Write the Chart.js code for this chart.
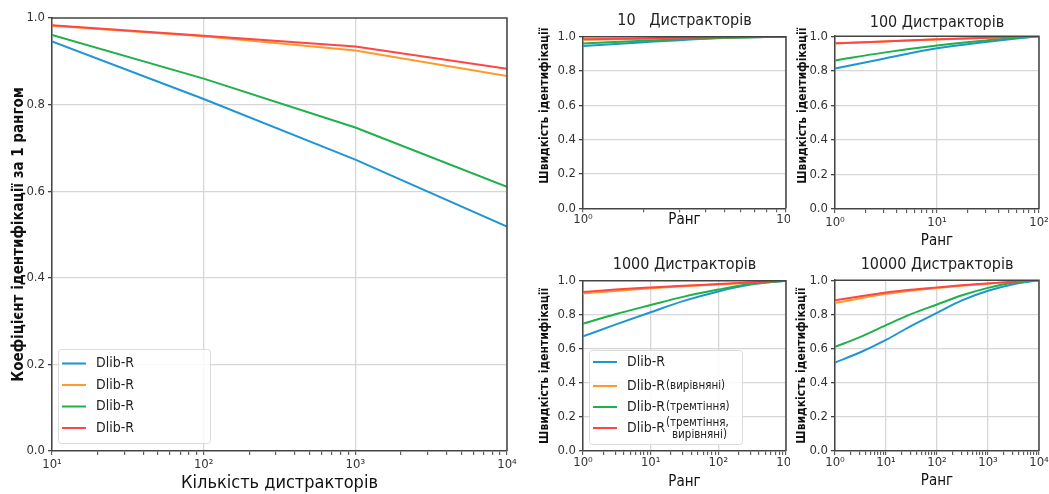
<!DOCTYPE html>
<html><head><meta charset="utf-8">
<script src="https://cdn.jsdelivr.net/npm/chart.js@4.4.1/dist/chart.umd.min.js"></script>
<style>
html,body{margin:0;padding:0;background:#fff;width:1049px;height:494px;overflow:hidden;position:relative}
.box{position:absolute}
</style></head><body>
<div class="box" style="left:0;top:0;width:520px;height:494px"><canvas id="cMain"></canvas></div>
<div class="box" style="left:530px;top:0;width:260px;height:250px"><canvas id="c10"></canvas></div>
<div class="box" style="left:790px;top:0;width:259px;height:250px"><canvas id="c100"></canvas></div>
<div class="box" style="left:530px;top:250px;width:260px;height:244px"><canvas id="c1000"></canvas></div>
<div class="box" style="left:790px;top:250px;width:259px;height:244px"><canvas id="c10000"></canvas></div>
<script>
// ---------- DATA ----------
const SERIES_LABELS = ['Dlib-R', 'Dlib-R(вирівняні)', 'Dlib-R(тремтіння)', 'Dlib-R(тремтіння, вирівняні)'];
const MAIN_LEGEND_LABELS = ['Dlib-R', 'Dlib-R', 'Dlib-R', 'Dlib-R'];

const DISTRACTORS = [10, 100, 1000, 10000];
const MAIN_BLUE   = [0.946, 0.813, 0.673, 0.518];
const MAIN_ORANGE = [0.982, 0.958, 0.925, 0.866];
const MAIN_GREEN  = [0.961, 0.860, 0.747, 0.610];
const MAIN_RED    = [0.983, 0.959, 0.934, 0.883];

const RANK_10 = [1, 2, 3, 5, 10];
const R10_BLUE   = [0.946, 0.968, 0.980, 0.992, 1.0];
const R10_ORANGE = [0.982, 0.988, 0.992, 0.996, 1.0];
const R10_GREEN  = [0.961, 0.976, 0.985, 0.994, 1.0];
const R10_RED    = [0.985, 0.990, 0.994, 0.997, 1.0];

const RANK_100 = [1, 3, 10, 30, 100];
const R100_BLUE   = [0.813, 0.870, 0.930, 0.966, 1.0];
const R100_ORANGE = [0.958, 0.969, 0.981, 0.990, 1.0];
const R100_GREEN  = [0.860, 0.905, 0.946, 0.975, 1.0];
const R100_RED    = [0.959, 0.970, 0.982, 0.991, 1.0];

const RANK_1000 = [1, 3, 10, 30, 100, 300, 1000];
const R1000_BLUE   = [0.673, 0.742, 0.815, 0.880, 0.937, 0.977, 1.0];
const R1000_ORANGE = [0.925, 0.940, 0.955, 0.967, 0.978, 0.989, 1.0];
const R1000_GREEN  = [0.747, 0.803, 0.857, 0.905, 0.948, 0.981, 1.0];
const R1000_RED    = [0.934, 0.948, 0.960, 0.970, 0.980, 0.990, 1.0];

const RANK_10000 = [1, 3, 10, 30, 100, 300, 1000, 3000, 10000];
const R10000_BLUE   = [0.518, 0.575, 0.650, 0.730, 0.809, 0.880, 0.938, 0.975, 1.0];
const R10000_ORANGE = [0.866, 0.893, 0.920, 0.938, 0.955, 0.968, 0.980, 0.990, 1.0];
const R10000_GREEN  = [0.610, 0.665, 0.737, 0.800, 0.858, 0.910, 0.955, 0.985, 1.0];
const R10000_RED    = [0.883, 0.905, 0.928, 0.944, 0.958, 0.970, 0.981, 0.991, 1.0];

const Y_TICKS = [0, 0.2, 0.4, 0.6, 0.8, 1.0];
const SUPERSCRIPTS = ['⁰', '¹', '²', '³', '⁴'];
const TITLE_MAIN_X = 'Кількість дистракторів';
const TITLE_MAIN_Y = 'Коефіцієнт ідентифікації за 1 рангом';
const TITLE_SMALL_X = 'Ранг';
const TITLE_SMALL_Y = 'Швидкість ідентифікації';
const PANEL_TITLES = ['10   Дистракторів', '100 Дистракторів', '1000 Дистракторів', '10000 Дистракторів'];

// ---------- STYLE ----------
const COLORS = ['#1f96d2', '#ff9a2a', '#1fb04a', '#ff4545'];
const NARROW = "'Liberation Sans Narrow','DejaVu Sans Condensed','Roboto Condensed','Liberation Sans',sans-serif";
const GRID = '#d6d6d6';
const AXIS = '#444';
Chart.defaults.font.family = NARROW;
Chart.defaults.color = '#333';

function isDecade(v) { const l = Math.log10(v); return Math.abs(l - Math.round(l)) < 1e-9; }

function mkDatasets(xs, series, labels, tension) {
  return series.map((vals, i) => ({
    label: labels[i],
    data: xs.map((x, j) => ({x: x, y: vals[j]})),
    borderColor: COLORS[i], backgroundColor: COLORS[i],
    borderWidth: 2, pointRadius: 0, fill: false,
    tension: tension, cubicInterpolationMode: tension ? 'monotone' : 'default',
    order: 3 - i
  }));
}

const framePlugin = {
  id: 'frame',
  afterDatasetsDraw(chart) {
    const {ctx, chartArea: a} = chart;
    ctx.save(); ctx.strokeStyle = AXIS; ctx.lineWidth = 1.5;
    ctx.beginPath(); ctx.moveTo(a.left, a.top); ctx.lineTo(a.right, a.top); ctx.lineTo(a.right, a.bottom); ctx.stroke();
    ctx.restore();
  }
};

const boxLegend = {
  id: 'boxLegend',
  afterDraw(chart, args, o) {
    if (!o || !o.show) return;
    const {ctx, chartArea: a} = chart;
    const x0 = a.left + o.dx, y0 = a.bottom - o.dy - o.h;
    ctx.save();
    ctx.fillStyle = 'rgba(255,255,255,0.85)'; ctx.strokeStyle = '#dcdcdc'; ctx.lineWidth = 1;
    ctx.beginPath(); ctx.roundRect(x0 + 0.5, y0 + 0.5, o.w, o.h, 3); ctx.fill(); ctx.stroke();
    chart.data.datasets.forEach((ds, i) => {
      const y = y0 + o.rows[i];
      ctx.strokeStyle = ds.borderColor; ctx.lineWidth = 2;
      ctx.beginPath(); ctx.moveTo(x0 + 4, y); ctx.lineTo(x0 + 28, y); ctx.stroke();
      ctx.fillStyle = '#222'; ctx.textBaseline = 'middle'; ctx.textAlign = 'left';
      const txt = ds.label; const p = txt.indexOf('(');
      const main = p >= 0 ? txt.slice(0, p) : txt;
      ctx.font = '14px ' + NARROW;
      ctx.fillText(main, x0 + 38, y);
      if (p >= 0) {
        const rest = txt.slice(p);
        const xr = x0 + 38 + ctx.measureText(main).width + 1;
        ctx.font = '11.5px ' + NARROW;
        const parts = rest.split(', ');
        if (parts.length > 1) {
          ctx.fillText(parts[0] + ',', xr, y - 4.5);
          ctx.fillText(parts[1], xr + 6, y + 7);
        } else {
          ctx.fillText(rest, xr, y);
        }
      }
    });
    ctx.restore();
  }
};

function xAxis(min, max, o) {
  return {
    type: 'logarithmic', min: min, max: max,
    afterBuildTicks(s) {
      s.ticks = s.ticks.filter(t => {
        const m = t.value / Math.pow(10, Math.floor(Math.log10(t.value) + 1e-9));
        return Math.abs(m - Math.round(m)) < 1e-6;
      });
    },
    ticks: {
      autoSkip: false, maxRotation: 0, minRotation: 0, padding: o.tickPad, color: '#333',
      font: {size: 13},
      callback: (v) => isDecade(v) ? '10' + SUPERSCRIPTS[Math.round(Math.log10(v))] : ''
    },
    grid: {
      color: c => (c.tick && isDecade(c.tick.value)) ? GRID : 'rgba(0,0,0,0)',
      lineWidth: 1.3, tickColor: AXIS, tickLength: 4, tickWidth: 1
    },
    border: {display: true, color: AXIS, width: 1.5},
    title: {display: true, text: o.title, font: {size: o.titleSize, weight: o.titleWeight || 'normal'},
            color: '#111', padding: {top: 0, bottom: o.titlePad}},
    afterFit(s) { s.height = o.height; s.paddingLeft = 0; s.paddingRight = 0; }
  };
}

function yAxis(o) {
  return {
    type: 'linear', min: 0, max: 1,
    afterBuildTicks(s) { s.ticks = Y_TICKS.map(v => ({value: v})); },
    ticks: {padding: 3, color: '#333', font: {size: 13}, callback: v => Number(v).toFixed(1)},
    grid: {
      color: c => (c.tick && c.tick.value > 0.001 && c.tick.value < 0.999) ? GRID : 'rgba(0,0,0,0)',
      lineWidth: 1.3, tickColor: AXIS, tickLength: 4
    },
    border: {display: true, color: AXIS, width: 1.5},
    title: {display: true, text: o.title, font: {size: o.titleSize, weight: 'bold'}, color: '#111',
            padding: {top: o.titlePad, bottom: 0}},
    afterFit(s) { s.width = o.width; s.paddingTop = 0; s.paddingBottom = 0; }
  };
}

function makeChart(id, xs, series, labels, cfg) {
  return new Chart(document.getElementById(id), {
    type: 'line',
    data: {datasets: mkDatasets(xs, series, labels, cfg.tension)},
    options: {
      responsive: true, maintainAspectRatio: false, animation: false,
      layout: {padding: cfg.padding},
      plugins: {
        legend: {display: false}, tooltip: {enabled: false},
        title: cfg.panelTitle ? {display: true, text: cfg.panelTitle, fullSize: false, color: '#222',
                 font: {size: 16, weight: 'normal'}, padding: cfg.panelTitlePad} : {display: false},
        boxLegend: cfg.legend || {show: false}
      },
      scales: {x: xAxis(cfg.xmin, cfg.xmax, cfg.x), y: yAxis(cfg.y)}
    },
    plugins: [framePlugin, boxLegend]
  });
}

const LEGEND_ROWS_MAIN = [14.5, 36, 57.5, 79];
const LEGEND_ROWS_SMALL = [12, 36, 57, 78];

makeChart('cMain', DISTRACTORS, [MAIN_BLUE, MAIN_ORANGE, MAIN_GREEN, MAIN_RED], MAIN_LEGEND_LABELS, {
  tension: 0, xmin: 10, xmax: 10000,
  padding: {left: 0, right: 13, top: 18, bottom: 0},
  x: {title: TITLE_MAIN_X, titleSize: 18, titlePad: 0, height: 43, tickPad: 2},
  y: {title: TITLE_MAIN_Y, titleSize: 15, titlePad: 10, width: 52},
  legend: {show: true, dx: 6, dy: 8, w: 152, h: 94, rows: LEGEND_ROWS_MAIN}
});

// leading spaces shift the rotated title up, as in the top panels of the reference
const SMALL_Y_TITLE_TOP = ' '.repeat(9) + TITLE_SMALL_Y;

makeChart('c10', RANK_10, [R10_BLUE, R10_ORANGE, R10_GREEN, R10_RED], SERIES_LABELS, {
  tension: 0.4, xmin: 1, xmax: 10,
  padding: {left: 0, right: 4, top: 0, bottom: 0},
  panelTitle: PANEL_TITLES[0], panelTitlePad: {top: 11, bottom: 6.5},
  x: {title: TITLE_SMALL_X, titleSize: 15, titlePad: 21, height: 41.7, tickPad: 0},
  y: {title: SMALL_Y_TITLE_TOP, titleSize: 12, titlePad: 8, width: 53}
});

makeChart('c100', RANK_100, [R100_BLUE, R100_ORANGE, R100_GREEN, R100_RED], SERIES_LABELS, {
  tension: 0.4, xmin: 1, xmax: 100,
  padding: {left: 0, right: 10, top: 0, bottom: 0},
  panelTitle: PANEL_TITLES[1], panelTitlePad: {top: 13, bottom: 4},
  x: {title: TITLE_SMALL_X, titleSize: 15, titlePad: 0, height: 41, tickPad: 2},
  y: {title: SMALL_Y_TITLE_TOP, titleSize: 12, titlePad: 5.5, width: 45}
});

makeChart('c1000', RANK_1000, [R1000_BLUE, R1000_ORANGE, R1000_GREEN, R1000_RED], SERIES_LABELS, {
  tension: 0.4, xmin: 1, xmax: 1000,
  padding: {left: 0, right: 4, top: 0, bottom: 0},
  panelTitle: PANEL_TITLES[2], panelTitlePad: {top: 5, bottom: 6.5},
  x: {title: TITLE_SMALL_X, titleSize: 15, titlePad: 2.5, height: 43, tickPad: 0},
  y: {title: TITLE_SMALL_Y, titleSize: 12, titlePad: 8, width: 53},
  legend: {show: true, dx: 6, dy: 7, w: 153, h: 94, rows: LEGEND_ROWS_SMALL}
});

makeChart('c10000', RANK_10000, [R10000_BLUE, R10000_ORANGE, R10000_GREEN, R10000_RED], SERIES_LABELS, {
  tension: 0.4, xmin: 1, xmax: 10000,
  padding: {left: 0, right: 10, top: 0, bottom: 0},
  panelTitle: PANEL_TITLES[3], panelTitlePad: {top: 5, bottom: 6},
  x: {title: TITLE_SMALL_X, titleSize: 15, titlePad: 3.5, height: 43, tickPad: 0},
  y: {title: TITLE_SMALL_Y, titleSize: 12, titlePad: 5, width: 45}
});
</script>
</body></html>
